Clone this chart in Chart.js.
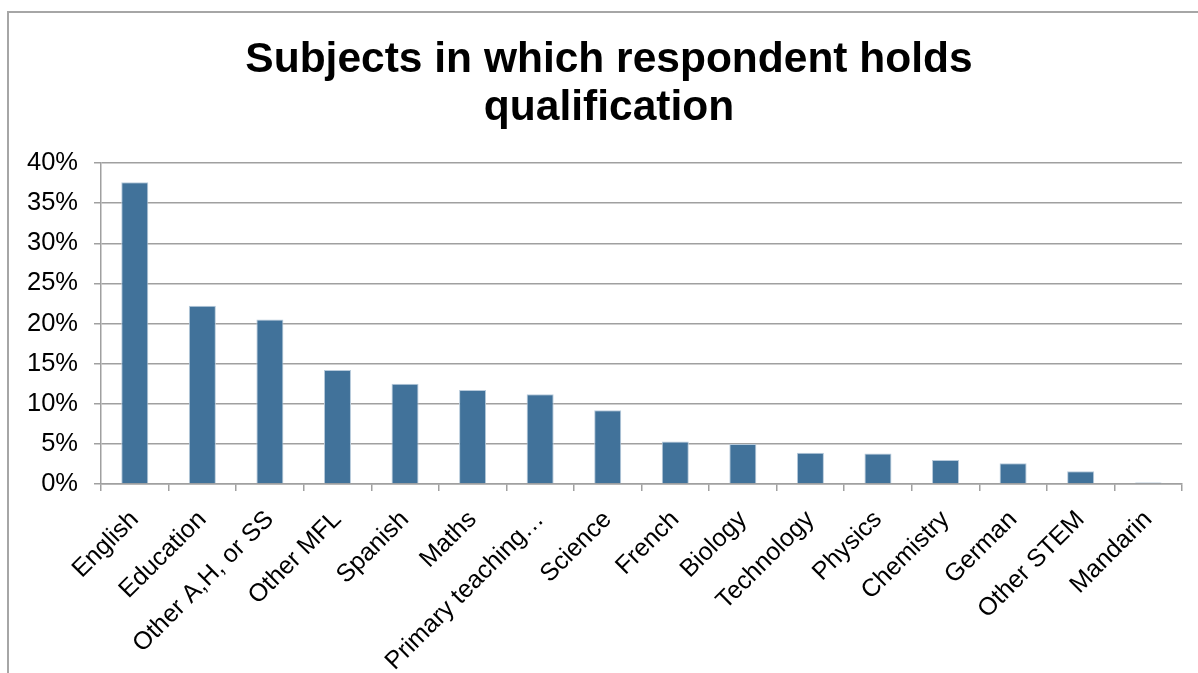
<!DOCTYPE html>
<html>
<head>
<meta charset="utf-8">
<script src="https://cdn.jsdelivr.net/npm/chart.js@4.4.1/dist/chart.umd.min.js"></script>
<style>
  html, body { margin: 0; padding: 0; background: #fff; }
  #wrap { position: relative; width: 1198px; height: 673px; overflow: hidden; }
  #frame { position: absolute; left: 7px; top: 11px; width: 1300px; height: 800px;
           border-left: 2px solid #a6a6a6; border-top: 2px solid #a6a6a6; }
  canvas { position: absolute; left: 0; top: 0; }
</style>
</head>
<body>
<div id="wrap">
  <div id="frame"></div>
  <canvas id="subjectsChart" width="1198" height="673"></canvas>
</div>
<script>
var subjects = ["English", "Education", "Other A,H, or SS", "Other MFL", "Spanish", "Maths",
  "Primary teaching\u2026", "Science", "French", "Biology", "Technology", "Physics",
  "Chemistry", "German", "Other STEM", "Mandarin"];
var percentHolding = [37.6, 22.2, 20.5, 14.2, 12.5, 11.7, 11.2, 9.2, 5.3, 5.0, 3.9, 3.8, 3.0, 2.6, 1.6, 0.2];
var yTicks = [0, 5, 10, 15, 20, 25, 30, 35, 40];

var font = "'Liberation Sans', Arial, sans-serif";
var gridGray = '#a0a0a0';

// the original title is centred on the whole frame, a bit right of Chart.js' own centre
var shiftTitle = {
    id: 'shiftTitle',
    afterLayout: function (chart) {
        chart.titleBlock.left += 36;
    }
};

var ctx = document.getElementById('subjectsChart').getContext('2d');
var chart = new Chart(ctx, {
    type: 'bar',
    data: {
        labels: subjects,
        datasets: [{
            label: "Holds qualification",
            backgroundColor: '#41729a',
            borderColor: '#b7cadb',
            borderWidth: { top: 1, left: 1, right: 1, bottom: 0 },
            data: percentHolding,
            barPercentage: 0.4,
            categoryPercentage: 1
        }]
    },
    plugins: [shiftTitle],
    options: {
        responsive: false,
        animation: false,
        devicePixelRatio: 1,
        layout: { padding: { left: 0, right: 16, top: 0, bottom: 0 } },
        plugins: {
            legend: { display: false },
            tooltip: { enabled: false },
            title: {
                display: true,
                text: ["Subjects in which respondent holds", "qualification"],
                color: '#000',
                font: { family: font, size: 42.5, weight: 'bold', lineHeight: 1.13 },
                padding: { top: 36, bottom: 31 }
            }
        },
        scales: {
            x: {
                grid: { drawOnChartArea: false, drawTicks: true, tickLength: 7, color: gridGray, lineWidth: 1.5 },
                border: { display: true, color: gridGray, width: 1.5 },
                ticks: {
                    autoSkip: false, maxRotation: 45, minRotation: 45, padding: 14,
                    color: '#000', font: { family: font, size: 25 }
                },
                afterFit: function (scale) { scale.height = 189; }
            },
            y: {
                min: 0,
                max: yTicks[yTicks.length - 1],
                afterBuildTicks: function (scale) {
                    scale.ticks = yTicks.map(function (v) { return { value: v }; });
                },
                grid: { color: gridGray, lineWidth: 1.5, tickLength: 7 },
                border: { display: true, color: gridGray, width: 1.5 },
                ticks: {
                    padding: 16, color: '#000', font: { family: font, size: 25.5 },
                    callback: function (v) { return v + '%'; }
                },
                afterFit: function (scale) { scale.width = 101; }
            }
        }
    }
});
</script>
</body>
</html>
